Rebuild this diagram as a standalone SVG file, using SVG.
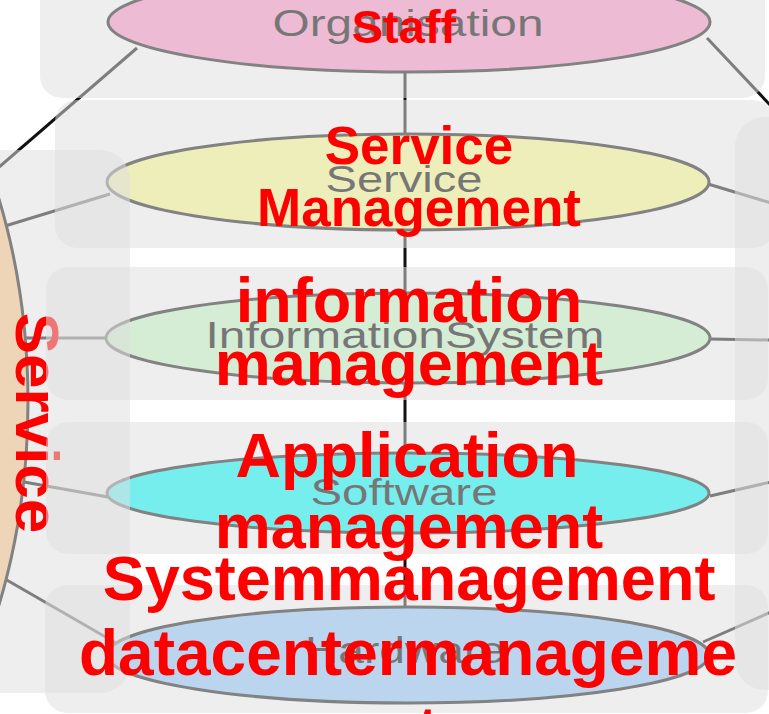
<svg xmlns="http://www.w3.org/2000/svg" width="769" height="714" viewBox="0 0 769 714">
<style>
.ov{fill:#dfdfdf;fill-opacity:.53}
.ln{stroke:#111;stroke-width:3;fill:none}
.el{stroke:#1a1a1a;stroke-width:3}
.gt{font-family:"Liberation Sans",Arial,sans-serif;font-size:36px;fill:#000;text-anchor:middle}
.rt{font-family:"Liberation Sans",Arial,sans-serif;font-weight:bold;fill:#ff0000;text-anchor:middle}
</style>
<rect width="769" height="714" fill="#ffffff"/>
<g id="connectors">
<line class="ln" x1="405" y1="70" x2="405" y2="655"/>
<line class="ln" x1="137" y1="48" x2="-2" y2="168"/>
<line class="ln" x1="707" y1="38" x2="771" y2="106"/>
<line class="ln" x1="110" y1="194" x2="5" y2="226"/>
<line class="ln" x1="708" y1="184" x2="771" y2="203"/>
<line class="ln" x1="108" y1="338" x2="24" y2="338"/>
<line class="ln" x1="710" y1="339" x2="771" y2="340"/>
<line class="ln" x1="108" y1="497" x2="24" y2="482"/>
<line class="ln" x1="710" y1="496" x2="771" y2="482"/>
<line class="ln" x1="116" y1="643" x2="5" y2="579"/>
<line class="ln" x1="703" y1="642" x2="771" y2="612"/>
</g>
<g id="organisation">
<ellipse class="el" cx="409" cy="22" rx="301" ry="50" fill="#ff92c9"/>
<text class="gt" x="408" y="36" font-size="38" textLength="271" lengthAdjust="spacingAndGlyphs">Organisation</text>
</g>
<g id="service-layer">
<ellipse class="el" cx="408" cy="182" rx="301" ry="48" fill="#ffff92"/>
<text class="gt" x="404" y="192" textLength="157" lengthAdjust="spacingAndGlyphs">Service</text>
</g>
<g id="informationsystem">
<ellipse class="el" cx="408" cy="338" rx="302" ry="45" fill="#cbfbcb"/>
<text class="gt" x="405" y="348" textLength="399" lengthAdjust="spacingAndGlyphs">InformationSystem</text>
</g>
<g id="software">
<ellipse class="el" cx="408" cy="493" rx="301" ry="40" fill="#00ffff"/>
<text class="gt" x="404" y="505" textLength="187" lengthAdjust="spacingAndGlyphs">Software</text>
</g>
<g id="hardware">
<ellipse class="el" cx="408" cy="655" rx="301" ry="48" fill="#92c9ff"/>
<text class="gt" x="405" y="663" textLength="200" lengthAdjust="spacingAndGlyphs">Hardware</text>
</g>
<g id="service">
<ellipse class="el" cx="-272" cy="402" rx="300" ry="473" fill="#ffc98d"/>
<rect class="ov" x="-30" y="150" width="160" height="543" rx="30"/>
<text class="rt" font-size="62" transform="translate(16,423) rotate(90)">Service</text>
</g>
<g id="right-column">
<rect class="ov" x="735" y="117" width="70" height="573" rx="30"/>
</g>
<g id="staff">
<rect class="ov" x="40" y="-30" width="725" height="128" rx="22"/>
<text class="rt" x="404" y="43" font-size="47">Staff</text>
</g>
<g id="service-management">
<rect class="ov" x="55" y="100" width="720" height="148" rx="22"/>
<text class="rt" font-size="53"><tspan x="419" y="164">Service</tspan><tspan x="419" y="226">Management</tspan></text>
</g>
<g id="information-management">
<rect class="ov" x="46" y="267" width="722" height="133" rx="22"/>
<text class="rt" font-size="63"><tspan x="409" y="322">information</tspan><tspan x="409" y="385">management</tspan></text>
</g>
<g id="application-management">
<rect class="ov" x="46" y="422" width="722" height="132" rx="22"/>
<text class="rt" font-size="63"><tspan x="407" y="477">Application</tspan><tspan x="409" y="548">management</tspan></text>
</g>
<g id="datacenter-management">
<rect class="ov" x="45" y="585" width="723" height="128" rx="22"/>
<text class="rt" x="409" y="600" font-size="63">Systemmanagement</text>
<text class="rt" font-size="64"><tspan x="408" y="675">datacentermanageme</tspan><tspan x="408" y="752">nt</tspan></text>
</g>
</svg>
